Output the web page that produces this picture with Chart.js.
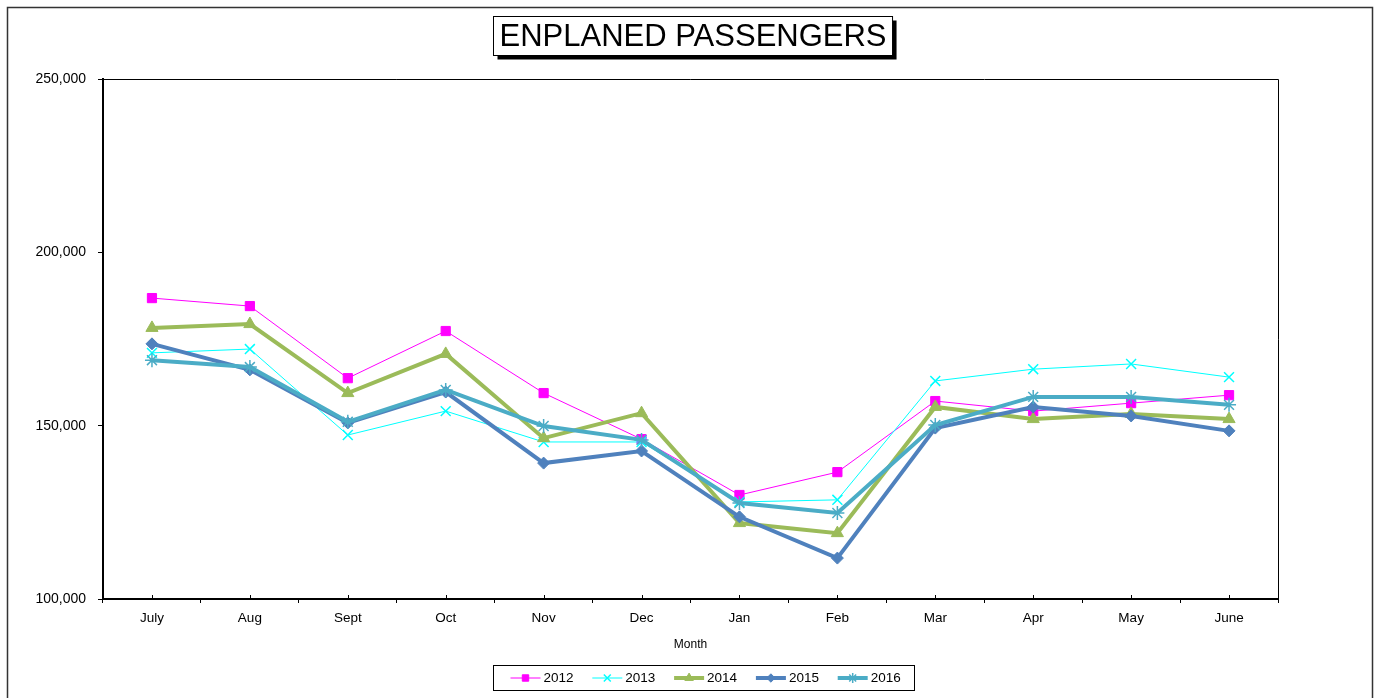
<!DOCTYPE html>
<html>
<head>
<meta charset="utf-8">
<title>Enplaned Passengers</title>
<script src="https://cdn.jsdelivr.net/npm/chart.js@4"></script>
<style>
  html, body { margin: 0; padding: 0; background: #fff; }
  #wrap { position: relative; width: 1377px; height: 698px; }
</style>
</head>
<body>
<div id="wrap"><canvas id="passengerChart" width="1377" height="698"></canvas></div>
<script>
// monthly enplanements, fiscal year July -> June
const MONTHS = ["July", "Aug", "Sept", "Oct", "Nov", "Dec", "Jan", "Feb", "Mar", "Apr", "May", "June"];
const Y2012 = [186800, 184500, 163700, 177300, 159400, 146100, 130000, 136600, 157100, 154200, 156500, 158800];
const Y2013 = [171000, 172100, 147300, 154200, 145300, 145300, 128000, 128600, 162900, 166300, 167800, 164000];
const Y2014 = [178200, 179300, 159400, 170700, 146400, 153600, 121900, 119000, 155400, 151900, 153400, 151900];
const Y2015 = [173600, 166100, 150800, 159700, 139200, 142700, 123700, 111800, 149300, 155400, 152800, 148500];
const Y2016 = [168900, 166900, 151100, 160300, 149900, 145900, 127700, 124800, 150200, 158300, 158300, 156000];
const Y_TICKS = [100000, 150000, 200000, 250000];
const TITLE = "ENPLANED PASSENGERS";

const FONT = "'Liberation Sans', Arial, sans-serif";

function series(label, data, color, width, style, radius, order) {
  return {
    label,
    data,
    borderColor: color,
    backgroundColor: color,
    borderWidth: width,
    pointStyle: style,
    pointRadius: radius,
    pointHoverRadius: radius,
    pointBorderColor: color,
    pointBackgroundColor: color,
    pointBorderWidth: style === "crossRot" || style === "star" ? 1.5 : 1,
    tension: 0,
    order, // lower order is painted last (on top)
  };
}

const datasets = [
  series("2012", Y2012, "#FF00FF", 1, "rect", 6.5, 4),
  series("2013", Y2013, "#00FFFF", 1, "crossRot", 7, 3),
  series("2014", Y2014, "#9BBB59", 4, "triangle", 7, 2),
  series("2015", Y2015, "#4F81BD", 4, "rectRot", 6, 1),
  series("2016", Y2016, "#4BACC6", 4, "star", 7, 0),
];

// page frame + boxed title with drop shadow
const framePlugin = {
  id: "frame",
  beforeDraw(chart) {
    const ctx = chart.ctx;
    ctx.save();
    ctx.fillStyle = "#fff";
    ctx.fillRect(0, 0, chart.width, chart.height);
    ctx.strokeStyle = "#333";
    ctx.lineWidth = 1.5;
    ctx.strokeRect(7.5, 7.5, chart.width - 12, chart.height + 20);
    ctx.restore();
  },
  afterDraw(chart) {
    const ctx = chart.ctx;
    ctx.save();
    ctx.font = `31px ${FONT}`;
    const tw = ctx.measureText(TITLE).width;
    const bw = tw + 12, bh = 39;
    const bx = 493.5, by = 16.5;
    ctx.fillStyle = "#000";
    ctx.fillRect(bx + 4, by + 4, bw, bh);
    ctx.fillStyle = "#fff";
    ctx.fillRect(bx, by, bw, bh);
    ctx.strokeStyle = "#000";
    ctx.lineWidth = 1;
    ctx.strokeRect(bx, by, bw, bh);
    ctx.fillStyle = "#000";
    ctx.textBaseline = "middle";
    ctx.textAlign = "left";
    ctx.fillText(TITLE, bx + 6, by + bh / 2 + 1);
    ctx.restore();
  },
};

// thin box round the plot, inner ticks at category centres
const plotBoxPlugin = {
  id: "plotBox",
  afterDatasetsDraw(chart) {
    const { ctx, chartArea } = chart;
    const xs = chart.scales.x;
    ctx.save();
    ctx.strokeStyle = "#000";
    ctx.lineWidth = 1;
    ctx.beginPath();
    ctx.moveTo(chartArea.left, chartArea.top + 0.5);
    ctx.lineTo(chartArea.right + 0.5, chartArea.top + 0.5);
    ctx.lineTo(chartArea.right + 0.5, chartArea.bottom);
    ctx.stroke();
    ctx.beginPath();
    MONTHS.forEach((m, i) => {
      const px = Math.round(xs.getPixelForValue(i)) + 0.5;
      ctx.moveTo(px, chartArea.bottom);
      ctx.lineTo(px, chartArea.bottom - 4);
    });
    ctx.stroke();
    ctx.restore();
  },
};

// Excel style legend: line + marker, boxed
const legendPlugin = {
  id: "boxLegend",
  afterDraw(chart) {
    const ctx = chart.ctx;
    const left = 493.5, top = 665.5, w = 421, h = 25;
    ctx.save();
    ctx.strokeStyle = "#000";
    ctx.lineWidth = 1;
    ctx.strokeRect(left, top, w, h);
    ctx.font = `13.5px ${FONT}`;
    ctx.textBaseline = "middle";
    ctx.textAlign = "left";
    const cy = top + h / 2;
    chart.data.datasets.forEach((ds, i) => {
      const x0 = left + 17 + i * 81.8;
      ctx.strokeStyle = ds.borderColor;
      ctx.lineWidth = ds.borderWidth;
      ctx.beginPath();
      ctx.moveTo(x0, cy);
      ctx.lineTo(x0 + 30, cy);
      ctx.stroke();
      // drawPoint uses the current fill/stroke/lineWidth
      ctx.fillStyle = ds.pointBackgroundColor;
      ctx.strokeStyle = ds.pointBorderColor;
      ctx.lineWidth = ds.pointBorderWidth;
      Chart.helpers.drawPoint(ctx, {
        pointStyle: ds.pointStyle,
        radius: ds.pointRadius * 0.7,
        borderWidth: ds.pointBorderWidth,
        rotation: 0,
      }, x0 + 15, cy);
      ctx.fillStyle = "#000";
      ctx.fillText(ds.label, x0 + 33, cy + 0.5);
    });
    ctx.restore();
  },
};

new Chart(document.getElementById("passengerChart"), {
  type: "line",
  data: { labels: MONTHS, datasets },
  plugins: [framePlugin, plotBoxPlugin, legendPlugin],
  options: {
    responsive: false,
    animation: false,
    layout: { padding: { top: 79, right: 99, left: 0, bottom: 41 } },
    plugins: {
      legend: { display: false },
      title: { display: false },
      tooltip: { enabled: false },
    },
    scales: {
      x: {
        offset: true,
        grid: {
          offset: true,
          drawOnChartArea: false,
          drawTicks: true,
          tickLength: 4,
          color: "#000",
        },
        border: { display: true, color: "#000", width: 2 },
        ticks: { color: "#000", padding: 7, font: { family: FONT, size: 13.5 }, maxRotation: 0 },
        title: {
          display: true,
          text: "Month",
          color: "#000",
          font: { family: FONT, size: 12 },
          padding: { top: 0, bottom: 5 },
        },
        afterFit(scale) { scale.height = 58; },
      },
      y: {
        min: 100000,
        max: 250000,
        grid: {
          drawOnChartArea: false,
          drawTicks: true,
          tickLength: 5,
          color: "#000",
        },
        border: { display: true, color: "#000", width: 2 },
        ticks: {
          color: "#000",
          padding: 12,
          font: { family: FONT, size: 14 },
          callback: (v) => Number(v).toLocaleString("en-US"),
        },
        afterBuildTicks(scale) { scale.ticks = Y_TICKS.map((v) => ({ value: v })); },
        afterFit(scale) { scale.width = 103; },
      },
    },
  },
});
</script>
</body>
</html>
